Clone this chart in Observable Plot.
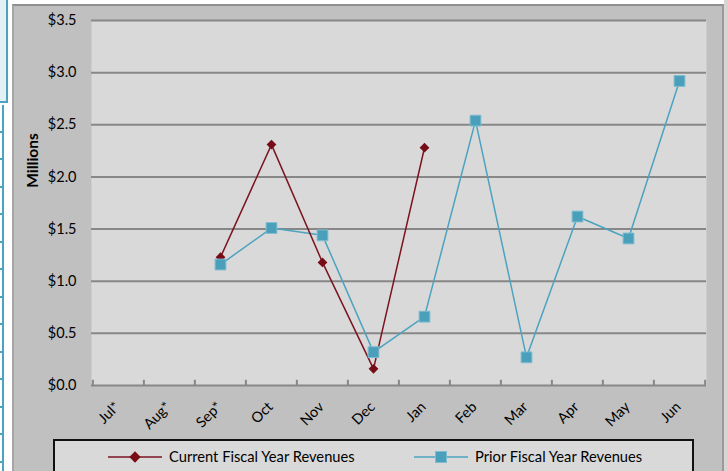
<!DOCTYPE html>
<html>
<head>
<meta charset="utf-8">
<script src="https://cdn.jsdelivr.net/npm/d3@7"></script>
<script src="https://cdn.jsdelivr.net/npm/@observablehq/plot@0.6"></script>
<style>
  html, body { margin: 0; padding: 0; background: #fff; }
  #wrap { position: relative; width: 727px; height: 471px; overflow: hidden; background: #fff; font-family: Lato, "Open Sans", sans-serif; }
  .cell { position: absolute; left: 0; width: 2px; border-right: 2px solid #4ba3bd; border-bottom: 2px solid #4ba3bd; box-sizing: content-box; }
  #area { position: absolute; left: 12px; top: 4px; width: 708px; height: 480px; background: #c0c0c0; border-left: 2px solid #a6a6a6; border-top: 2px solid #8f8f8f; border-right: 2px solid #9a9a9a; }
  #right-pad { position: absolute; left: 724px; top: 0; width: 3px; height: 471px; background: #d6d6d6; }
  #plot { position: absolute; left: 0; top: 0; }
  #legend { position: absolute; left: 53px; top: 439px; width: 637px; height: 40px; background: #d9d9d9; border: 2px solid #111; }
  .item { position: absolute; top: 6px; font-size: 14.7px; color: #000; line-height: 18px; white-space: nowrap; }
  .swatch { position: absolute; top: 9px; }
</style>
</head>
<body>
<div id="wrap">
  <div id="cells"></div>
  <div id="area"></div>
  <div id="right-pad"></div>
  <div id="plot"></div>
  <div id="legend">
    <svg class="swatch" style="left:53px" width="54" height="14">
      <line x1="0" y1="7" x2="54" y2="7" stroke="#7b1420" stroke-width="1.5"/>
      <rect x="23" y="3" width="8" height="8" fill="#780c16" transform="rotate(45 27 7)"/>
    </svg>
    <div class="item" style="left:114px">Current Fiscal Year Revenues</div>
    <svg class="swatch" style="left:359px" width="54" height="14">
      <line x1="0" y1="7" x2="54" y2="7" stroke="#4ba3c0" stroke-width="1.5"/>
      <rect x="21.5" y="1.5" width="11" height="11" fill="#4a9fba" stroke="#7fbcd0" stroke-width="1"/>
    </svg>
    <div class="item" style="left:420px">Prior Fiscal Year Revenues</div>
  </div>
</div>
<script>
// Fiscal-year months (July through June) and revenues in millions of dollars
const months = ["Jul*", "Aug*", "Sep*", "Oct", "Nov", "Dec", "Jan", "Feb", "Mar", "Apr", "May", "Jun"];
const currentRevenues = [null, null, 1.23, 2.31, 1.18, 0.16, 2.28, null, null, null, null, null];
const priorRevenues = [null, null, 1.16, 1.51, 1.44, 0.32, 0.66, 2.54, 0.27, 1.62, 1.41, 2.92];
const yTicks = [0, 0.5, 1.0, 1.5, 2.0, 2.5, 3.0, 3.5];

const toRows = (values) => months.map((m, i) => ({month: m, value: values[i]})).filter(d => d.value != null);
const current = toRows(currentRevenues);
const prior = toRows(priorRevenues);

// spreadsheet cell borders along the left edge
const cells = document.getElementById("cells");
const top0 = document.createElement("div");
top0.className = "cell";
top0.style.cssText = "top:0;height:101px;width:6px;background:#e3f0f4;";
cells.appendChild(top0);
for (let y = 105; y < 471; y += 27.5) {
  const c = document.createElement("div");
  c.className = "cell";
  c.style.top = y + "px";
  c.style.height = "25.5px";
  cells.appendChild(c);
}

const width = 727, height = 438;
const marginLeft = 91, marginRight = 21, marginTop = 20, marginBottom = 53;
const step = (width - marginLeft - marginRight) / months.length;
const font = "Lato, 'Open Sans', sans-serif";

const chart = Plot.plot({
  width, height, marginLeft, marginRight, marginTop, marginBottom,
  style: {background: "transparent", fontFamily: font, fontSize: "14.5px", color: "#000"},
  x: {type: "point", domain: months, padding: 0.5, label: null},
  y: {domain: [0, 3.5], label: null},
  marks: [
    Plot.frame({fill: "#d9d9d9", stroke: null}),
    Plot.ruleY(yTicks, {stroke: "#878787", strokeWidth: 2}),
    Plot.ruleX(months, {x: d => d, y1: 0, y2: 0.05, dx: -step / 2, stroke: "#878787", strokeWidth: 2}),
    Plot.ruleX(months.slice(-1), {x: d => d, y1: 0, y2: 0.05, dx: step / 2, stroke: "#878787", strokeWidth: 2}),
    Plot.axisY({ticks: yTicks, tickSize: 0, tickPadding: 15, tickFormat: d => "$" + d.toFixed(1), fontSize: 14.5}),
    Plot.axisX({tickSize: 0, tickRotate: -45, tickPadding: 15, dx: -1, dy: 4, fontSize: 14.5}),
    Plot.text(["Millions"], {frameAnchor: "top-left", dx: -65, dy: 140, rotate: -90, textAnchor: "middle", fontWeight: "bold", fontSize: 15.5}),
    Plot.line(prior, {x: "month", y: "value", stroke: "#4ba3c0", strokeWidth: 1.5}),
    Plot.line(current, {x: "month", y: "value", stroke: "#7b1420", strokeWidth: 1.5}),
    Plot.dot(current, {x: "month", y: "value", symbol: "square", r: 3.9, rotate: 45, fill: "#780c16", stroke: "none"}),
    Plot.dot(prior, {x: "month", y: "value", symbol: "square", r: 6.1, fill: "#4a9fba", stroke: "#7fbcd0", strokeWidth: 1})
  ]
});
document.getElementById("plot").appendChild(chart);
</script>
</body>
</html>
